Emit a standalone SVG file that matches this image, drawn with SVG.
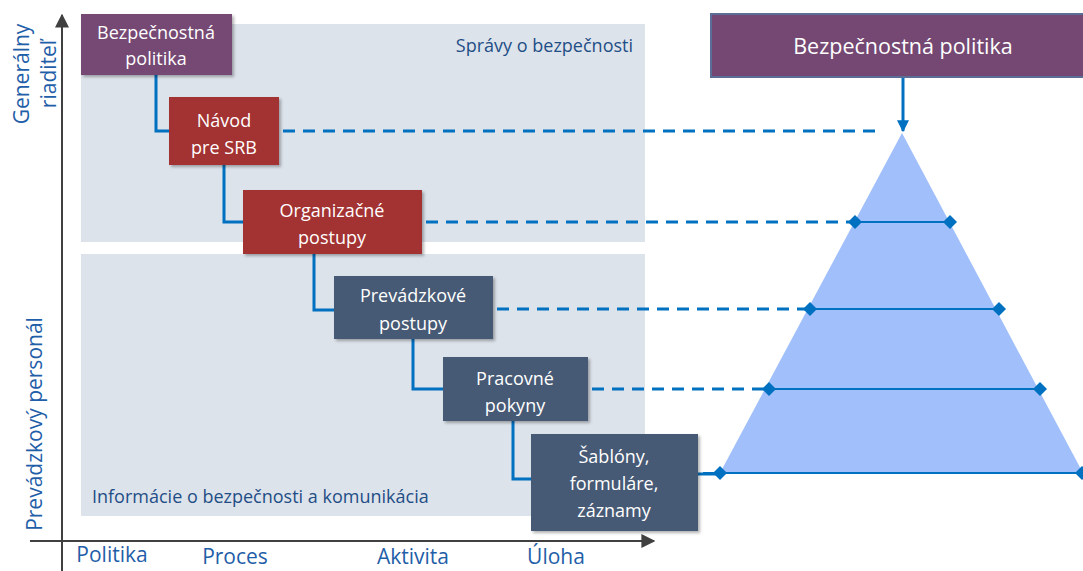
<svg xmlns="http://www.w3.org/2000/svg" width="1083" height="571" viewBox="0 0 1083 571">
  <defs>
    <style>
      .panel { fill: #dde3eb; }
      .node-text { font-family: "Open Sans", "Liberation Sans", sans-serif; font-size: 18px; fill: #ffffff; text-anchor: middle; }
      .axis-label { font-family: "Open Sans", "Liberation Sans", sans-serif; font-size: 21px; fill: #1f5ea8; }
      .panel-label { font-family: "Open Sans", "Liberation Sans", sans-serif; font-size: 18px; fill: #1f4e86; }
      .axis { stroke: #404040; stroke-width: 2; fill: none; }
      .link { stroke: #0070c0; stroke-width: 3; fill: none; }
      .dash { stroke: #0070c0; stroke-width: 3; fill: none; stroke-dasharray: 12 8; }
      .tier { stroke: #0070c0; stroke-width: 2; fill: none; }
      .purple { fill: #744873; }
      .red { fill: #a33330; }
      .slate { fill: #465a75; }
    </style>
    <filter id="shadow" x="-10%" y="-10%" width="125%" height="130%">
      <feDropShadow dx="2" dy="2" stdDeviation="1.5" flood-color="#000" flood-opacity="0.3"/>
    </filter>
    <marker id="axisHead" viewBox="0 0 10 10" refX="9" refY="5" markerWidth="7" markerHeight="7" orient="auto">
      <path d="M0,0 L10,5 L0,10 z" fill="#404040"/>
    </marker>
    <marker id="blueHead" viewBox="0 0 10 10" refX="9" refY="5" markerWidth="4" markerHeight="4" orient="auto">
      <path d="M0,0 L10,5 L0,10 z" fill="#0070c0"/>
    </marker>
    <path id="diamond" d="M0,-7 L7,0 L0,7 L-7,0 z" fill="#0070c0"/>
  </defs>

  <!-- background panels -->
  <rect class="panel" x="81" y="24" width="564" height="218"/>
  <rect class="panel" x="81" y="254" width="564" height="262"/>
  <text class="panel-label" x="633" y="52" text-anchor="end">Správy o bezpečnosti</text>
  <text class="panel-label" x="92" y="503">Informácie o bezpečnosti a komunikácia</text>

  <!-- axes -->
  <g id="axes">
    <line class="axis" x1="62" y1="571" x2="62" y2="15" marker-end="url(#axisHead)"/>
    <line class="axis" x1="30" y1="541" x2="654" y2="541" marker-end="url(#axisHead)"/>
    <text class="axis-label" transform="translate(29,74) rotate(-90)" text-anchor="middle" font-size="20">Generálny</text>
    <text class="axis-label" transform="translate(56,74) rotate(-90)" text-anchor="middle" font-size="20">riaditeľ</text>
    <text class="axis-label" transform="translate(42,424) rotate(-90)" text-anchor="middle">Prevádzkový personál</text>
    <text class="axis-label" x="112" y="562" text-anchor="middle">Politika</text>
    <text class="axis-label" x="235" y="564" text-anchor="middle">Proces</text>
    <text class="axis-label" x="413" y="564" text-anchor="middle">Aktivita</text>
    <text class="axis-label" x="556" y="564" text-anchor="middle">Úloha</text>
  </g>

  <!-- pyramid -->
  <g id="pyramid">
    <polygon points="902,133 720,473 1083,473" fill="#a0bffb"/>
    <line class="tier" x1="855" y1="222" x2="950" y2="222"/>
    <line class="tier" x1="810" y1="309" x2="999" y2="309"/>
    <line class="tier" x1="769" y1="389" x2="1040" y2="389"/>
    <line class="tier" x1="703" y1="473" x2="1083" y2="473"/>
    <use href="#diamond" x="855" y="222"/>
    <use href="#diamond" x="950" y="222"/>
    <use href="#diamond" x="810" y="309"/>
    <use href="#diamond" x="999" y="309"/>
    <use href="#diamond" x="769" y="389"/>
    <use href="#diamond" x="1040" y="389"/>
    <use href="#diamond" x="720" y="473"/>
    <use href="#diamond" x="1082" y="473"/>
  </g>

  <!-- connectors -->
  <g id="connectors">
    <polyline class="link" points="156,75 156,131 169,131"/>
    <polyline class="link" points="224,165 224,222 243,222"/>
    <polyline class="link" points="314,254 314,310 334,310"/>
    <polyline class="link" points="413,339 413,389 443,389"/>
    <polyline class="link" points="513,421 513,479 531,479"/>
    <line class="dash" x1="283" y1="131" x2="882" y2="131"/>
    <line class="dash" x1="426" y1="222" x2="850" y2="222"/>
    <line class="dash" x1="497" y1="309" x2="805" y2="309"/>
    <line class="dash" x1="592" y1="389" x2="764" y2="389"/>
    <line class="link" x1="698" y1="474" x2="716" y2="474"/>
    <line class="link" x1="903" y1="77" x2="903" y2="131" marker-end="url(#blueHead)"/>
  </g>

  <!-- nodes -->
  <g id="node-policy">
    <rect class="purple" x="81" y="14" width="151" height="61" filter="url(#shadow)"/>
    <text class="node-text" x="156" y="39">Bezpečnostná</text>
    <text class="node-text" x="156" y="65">politika</text>
  </g>
  <g id="node-guide">
    <rect class="red" x="169" y="97" width="110" height="68" filter="url(#shadow)"/>
    <text class="node-text" x="224" y="127">Návod</text>
    <text class="node-text" x="224" y="154">pre SRB</text>
  </g>
  <g id="node-org">
    <rect class="red" x="243" y="190" width="179" height="64" filter="url(#shadow)"/>
    <text class="node-text" x="332" y="217">Organizačné</text>
    <text class="node-text" x="332" y="244">postupy</text>
  </g>
  <g id="node-ops">
    <rect class="slate" x="334" y="276" width="159" height="63" filter="url(#shadow)"/>
    <text class="node-text" x="413" y="302">Prevádzkové</text>
    <text class="node-text" x="413" y="330">postupy</text>
  </g>
  <g id="node-work">
    <rect class="slate" x="443" y="357" width="145" height="64" filter="url(#shadow)"/>
    <text class="node-text" x="515" y="385">Pracovné</text>
    <text class="node-text" x="515" y="412">pokyny</text>
  </g>
  <g id="node-templates">
    <rect class="slate" x="531" y="434" width="167" height="97" filter="url(#shadow)"/>
    <text class="node-text" x="614" y="463">Šablóny,</text>
    <text class="node-text" x="614" y="490">formuláre,</text>
    <text class="node-text" x="614" y="517">záznamy</text>
  </g>
  <g id="node-policy-header">
    <rect x="711" y="14" width="390" height="63" fill="#744873" stroke="#5b6e96" stroke-width="2"/>
    <text x="903" y="54" text-anchor="middle" font-family="'Open Sans', 'Liberation Sans', sans-serif" font-size="21.5" fill="#ffffff">Bezpečnostná politika</text>
  </g>
</svg>
